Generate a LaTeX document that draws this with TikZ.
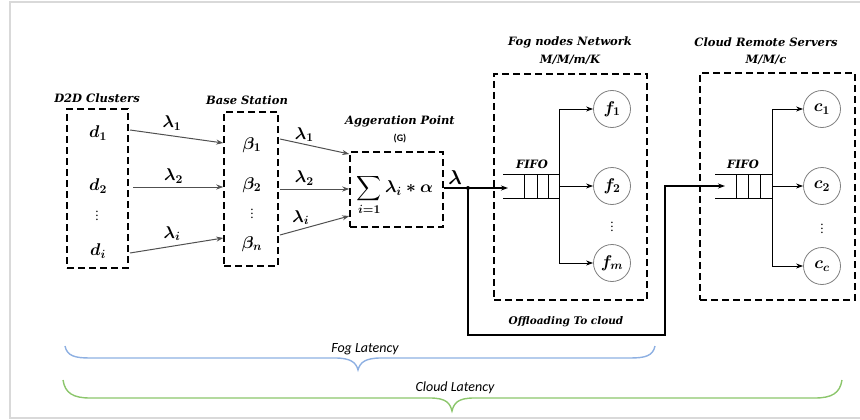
\RequirePackage{fix-cm}
\documentclass[tikz,border=0pt]{standalone}
\usepackage{amsmath}
\usepackage{bm}
\usepackage{fontspec}
\setmainfont{DejaVu Serif}
\newfontfamily\latfont{Carlito}
\usetikzlibrary{arrows.meta}
\definecolor{framegray}{HTML}{D9D9D9}
\definecolor{arrgray}{HTML}{505050}
\definecolor{bracefog}{HTML}{8EB0E2}
\definecolor{bracecloud}{HTML}{8CC66C}
\tikzset{
  dbox/.style={draw=black, line width=1.5pt, dash pattern=on 7pt off 4pt, inner sep=0pt},
  ttl/.style={font=\fontsize{11.5}{13}\selectfont\bfseries\itshape, inner sep=0pt},
  mlbl/.style={font=\fontsize{17}{19}\selectfont\boldmath, inner sep=0pt},
  dots/.style={font=\fontsize{12}{13}\selectfont, inner sep=0pt},
  garrow/.style={draw=arrgray, line width=1pt, -{Stealth[length=7pt,width=5pt]}},
  barrow/.style={draw=black, line width=1pt, -{Stealth[length=7pt,width=5pt]}},
  thk/.style={draw=black, line width=1.5pt},
  srv/.style={circle, draw=gray, line width=0.8pt, minimum size=37pt, inner sep=0pt, font=\fontsize{17}{19}\selectfont\boldmath},
  qline/.style={draw=black, line width=0.9pt},
  latlbl/.style={font=\latfont\itshape\fontsize{14}{16}\selectfont, inner sep=0pt},
}
\newcommand{\vdt}{\raisebox{0pt}[9pt][0pt]{$\vdots$}}
\begin{document}
\begin{tikzpicture}[x=1pt,y=-1pt]
\useasboundingbox (0,0) rectangle (860,420);
% frame
\draw[framegray, line width=2pt] (860,2) -- (10,2) -- (10,418) -- (860,418);

% D2D clusters
\node[ttl] (d2dt) at (97,98) {D2D Clusters};
\node[dbox, minimum width=61pt, minimum height=159pt] (d2d) at (97.5,188.5) {};
\node[mlbl] (d1) at (98,133) {$d_1$};
\node[mlbl] (d2) at (98,186) {$d_2$};
\node[dots] (dv) at (97,216) {\vdt};
\node[mlbl] (di) at (98,251) {$d_i$};

% Base station
\node[ttl] (bst) at (247,100) {Base Station};
\node[dbox, minimum width=54pt, minimum height=154pt] (bs) at (251,189) {};
\node[mlbl] (b1) at (252,145) {$\beta_1$};
\node[mlbl] (b2) at (252,185) {$\beta_2$};
\node[dots] (bv) at (252,214) {\vdt};
\node[mlbl] (bn) at (252,244) {$\beta_n$};

\coordinate (s1) at (130,130);
\coordinate (s2) at (133,187);
\coordinate (s3) at (130,253);
\draw[garrow] (s1) -- node[mlbl, above=5pt, pos=0.45] {$\lambda_1$} (bs.west |- 0,143);
\draw[garrow] (s2) -- node[mlbl, above=3pt, pos=0.45] {$\lambda_2$} (bs.west |- 0,187);
\draw[garrow] (s3) -- node[mlbl, above=5pt, pos=0.45] {$\lambda_i$} (bs.west |- 0,238);

% Aggregation point
\node[ttl] (aggt) at (400,121) {Aggeration Point};
\node[font=\latfont\bfseries\fontsize{10}{11}\selectfont, inner sep=0pt] (g) at (400,139) {(G)};
\node[dbox, minimum width=93pt, minimum height=75pt] (agg) at (396.5,189.5) {};
\node[font=\fontsize{17}{19}\selectfont\boldmath, inner sep=0pt] (sum) at (395,195) {$\displaystyle\sum_{i=1}\lambda_i * \alpha$};

\coordinate (t1) at (280,139);
\coordinate (t2) at (280,189);
\coordinate (t3) at (280,235);
\draw[garrow] (t1) -- node[mlbl, above=2pt, pos=0.35] {$\lambda_1$} (agg.west |- 0,154);
\draw[garrow] (t2) -- node[mlbl, above=3pt, pos=0.35] {$\lambda_2$} (agg.west |- 0,189);
\draw[garrow] (t3) -- node[mlbl, above=4pt, pos=0.3] {$\lambda_i$} (agg.west |- 0,216);

% Fog nodes network
\node[ttl] (fogt) at (570,42) {Fog nodes Network};
\node[ttl] (fogq) at (570,60) {M/M/m/K};
\node[dbox, minimum width=153pt, minimum height=226pt] (fog) at (570.5,187) {};
\node[ttl] (fifo1) at (532,164) {FIFO};
\coordinate (q1in) at (508,188);
\coordinate (q1out) at (559,186);
\draw[qline] (503,174) -- (559,174) (503,198) -- (559,198);
\foreach \x in {524,537,548,559} \draw[qline] (\x,174) -- (\x,198);
\node[srv] (f1) at (612,109) {$f_1$};
\node[srv] (f2) at (612,186) {$f_2$};
\node[dots] (fv) at (612,227) {\vdt};
\node[srv] (fm) at (612,263) {$f_m$};
\draw[barrow] (q1out) -- (f2.west);
\draw[barrow] (q1out) -- (q1out |- f1) -- (f1.west);
\draw[barrow] (q1out) -- (q1out |- fm) -- (fm.west);

% Cloud remote servers
\node[ttl] (cloudt) at (766,42) {Cloud Remote Servers};
\node[ttl] (cloudq) at (766,60) {M/M/c};
\node[dbox, minimum width=155pt, minimum height=227pt] (cloud) at (777.5,186.5) {};
\node[ttl] (fifo2) at (743,164) {FIFO};
\coordinate (q2in) at (725,186);
\coordinate (q2out) at (772,186);
\draw[qline] (715,174) -- (772,174) (715,198) -- (772,198);
\foreach \x in {736,748,760,772} \draw[qline] (\x,174) -- (\x,198);
\node[srv] (c1) at (822,109) {$c_1$};
\node[srv] (c2) at (822,186) {$c_2$};
\node[dots] (cv) at (822,229) {\vdt};
\node[srv] (cc) at (822,266) {$c_c$};
\draw[barrow] (q2out) -- (c2.west);
\draw[barrow] (q2out) -- (q2out |- c1) -- (c1.west);
\draw[barrow] (q2out) -- (q2out |- cc) -- (cc.west);

% output of aggregation
\coordinate (jn) at (468,188);
\draw[barrow, line width=1.3pt] (agg.east |- jn) -- (q1in);
\fill (jn) circle (2pt);
\node[font=\fontsize{20}{22}\selectfont\boldmath, inner sep=0pt] (lam) at (455,178) {$\lambda$};
\coordinate (bl) at (468,335);
\coordinate (br) at (665,335);
\draw[thk, -{Stealth[length=7pt,width=5pt]}] (jn) -- (bl) -- (br) -- (br |- q2in) -- (q2in);
\node[ttl, font=\fontsize{10.5}{12}\selectfont\bfseries\itshape] (off) at (566,322) {Offloading To cloud};

% braces
\draw[bracefog, line width=1.4pt] (65,346) .. controls (67,356) and (75,358) .. (90,358)
  -- (335,358) .. controls (350,358) and (356,362) .. (358,370)
  .. controls (360,362) and (366,358) .. (381,358) -- (630,358)
  .. controls (645,358) and (653,356) .. (655,346);
\node[latlbl] (fogl) at (365,349) {Fog Latency};
\draw[bracecloud, line width=1.4pt] (63,380) .. controls (65,393) and (73,398) .. (90,398)
  -- (430,398) .. controls (446,398) and (450,403) .. (452,411)
  .. controls (454,403) and (458,398) .. (474,398) -- (815,398)
  .. controls (832,398) and (840,393) .. (842,380);
\node[latlbl] (cloudl) at (455,388) {Cloud Latency};
\end{tikzpicture}
\end{document}
